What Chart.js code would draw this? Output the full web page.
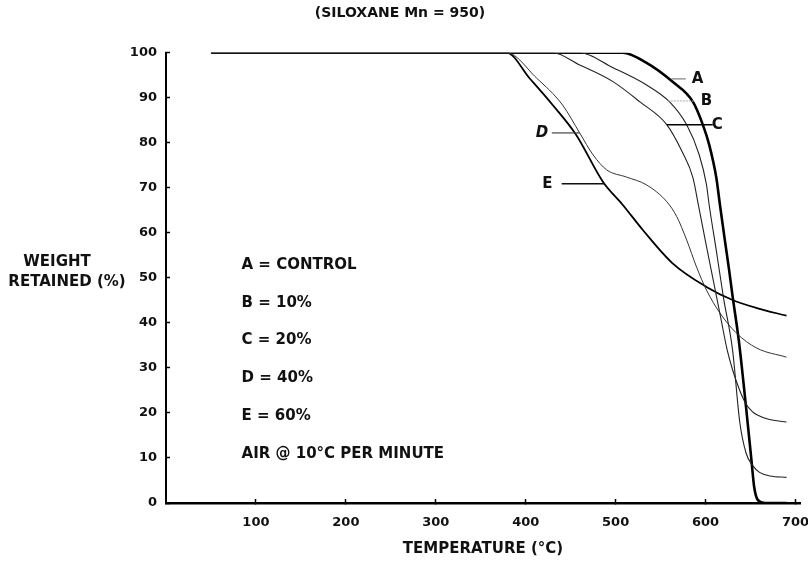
<!DOCTYPE html>
<html>
<head>
<meta charset="utf-8">
<script src="https://cdn.jsdelivr.net/npm/chart.js@4.4.1/dist/chart.umd.min.js"></script>
<style>
  html, body { margin: 0; padding: 0; background: #fff; }
</style>
</head>
<body>
<canvas id="tga" width="808" height="568"></canvas>
<script>
// tick labels
const xTicks = [100, 200, 300, 400, 500, 600, 700];
const yTicks = [0, 10, 20, 30, 40, 50, 60, 70, 80, 90, 100];

// curve A = control
const tempA   = [50, 380, 508, 534, 563, 586, 597, 604, 612, 616, 621, 626, 630, 637, 645, 651, 654, 658, 666, 690];
const weightA = [100, 100, 100, 97.8, 93.6, 89.1, 84, 79.6, 72.2, 66.2, 59, 52, 46, 36, 21.3, 9.5, 3.6, 0.7, 0, 0];
// curve B = 10%
const tempB   = [50, 460, 497, 534, 560, 579, 593, 601, 604, 612, 620, 630, 638, 645, 652, 660, 672, 690];
const weightB = [100, 100, 96.7, 92.9, 89.1, 84, 77.3, 70.7, 66.2, 56, 45.5, 34, 18, 11.1, 8.4, 6.8, 6, 5.7];
// curve C = 20%
const tempC   = [50, 430, 460, 497, 527, 557, 574, 586, 592, 600, 610, 617, 624, 630, 638, 645, 652, 657, 670, 690];
const weightC = [100, 100, 97.3, 93.6, 89.1, 84, 78, 72.2, 66.2, 58, 48, 41, 34, 29.6, 25, 22, 20.3, 19.6, 18.6, 18];
// curve D = 40%
const tempD   = [50, 379, 412, 441, 460, 475, 490, 512, 534, 557, 568, 579, 590, 601, 616, 634, 657, 690];
const weightD = [100, 100, 94.4, 88.4, 82.2, 77.3, 74, 72.4, 70.7, 66.9, 63.6, 58.4, 52.4, 47.3, 42.2, 37.8, 34.4, 32.4];
// curve E = 60%
const tempE   = [50, 379, 404, 430, 456, 486, 508, 530, 563, 601, 630, 657, 690];
const weightE = [100, 100, 94.4, 88.4, 81.8, 71.3, 66.2, 60.7, 53.3, 48, 45.1, 43.3, 41.6];

const legendLines = ['A = CONTROL', 'B = 10%', 'C = 20%', 'D = 40%', 'E = 60%', 'AIR @ 10°C PER MINUTE'];

const FONT = '"DejaVu Sans", "Liberation Sans", sans-serif';

function pts(t, w) { return t.map((v, i) => ({ x: v, y: w[i] })); }

// curve tags with leader lines, placed in data units
const curveTags = [
  { text: 'A', tx: 591, ty: 94.2, from: 562, to: 578, color: '#666', width: 1, dash: [] },
  { text: 'B', tx: 601, ty: 89.3, from: 558, to: 587, color: '#aaa', width: 1, dash: [2, 1] },
  { text: 'C', tx: 613, ty: 84.0, from: 557, to: 608, color: '#000', width: 1.5, dash: [] },
  { text: 'D', tx: 418, ty: 82.2, from: 429, to: 460, color: '#444', width: 1.2, dash: [], italic: true },
  { text: 'E', tx: 424, ty: 70.9, from: 440, to: 488, color: '#111', width: 1.6, dash: [] }
];

const notes = {
  id: 'notes',
  afterDatasetsDraw(chart) {
    const { ctx, scales: { x, y } } = chart;
    ctx.save();
    ctx.fillStyle = '#111';
    ctx.textBaseline = 'middle';

    // y axis title, horizontal
    ctx.font = 'bold 15px ' + FONT;
    ctx.textAlign = 'center';
    ctx.fillText('WEIGHT', 57, 262);
    ctx.fillText('RETAINED (%)', 67, 282);

    // key inside plot
    ctx.textAlign = 'left';
    legendLines.forEach((s, i) => {
      ctx.fillText(s, x.getPixelForValue(84), y.getPixelForValue(52.9 - i * 8.4));
    });

    // curve tags
    curveTags.forEach(c => {
      const py = y.getPixelForValue(c.ty);
      ctx.beginPath();
      ctx.setLineDash(c.dash);
      ctx.strokeStyle = c.color;
      ctx.lineWidth = c.width;
      ctx.moveTo(x.getPixelForValue(c.from), py);
      ctx.lineTo(x.getPixelForValue(c.to), py);
      ctx.stroke();
      ctx.setLineDash([]);
      ctx.font = (c.italic ? 'italic ' : '') + 'bold 15px ' + FONT;
      ctx.textAlign = 'center';
      ctx.fillText(c.text, x.getPixelForValue(c.tx), py);
    });
    ctx.restore();
  }
};

function curve(t, w, width, color) {
  return {
    data: pts(t, w),
    borderColor: color,
    borderWidth: width,
    pointRadius: 0,
    fill: false,
    cubicInterpolationMode: 'monotone'
  };
}

// small tick marks that sit inside the plot, as on the original
const tickGrid = { display: true, drawOnChartArea: false, drawTicks: true, tickLength: -4, tickColor: '#000', tickWidth: 1.5 };

new Chart(document.getElementById('tga'), {
  type: 'line',
  data: {
    datasets: [
      curve(tempB, weightB, 1.1, '#222'),
      curve(tempC, weightC, 1.1, '#222'),
      curve(tempD, weightD, 1.0, '#333'),
      curve(tempE, weightE, 1.8, '#000'),
      curve(tempA, weightA, 2.6, '#000')
    ]
  },
  options: {
    responsive: false,
    animation: false,
    layout: { padding: { top: 5, right: 8, left: 0, bottom: 10 } },
    plugins: {
      legend: { display: false },
      tooltip: { enabled: false },
      title: {
        display: true,
        text: '(SILOXANE Mn = 950)',
        color: '#111',
        font: { family: FONT, size: 14, weight: 'bold' },
        padding: { top: 0, bottom: 31 }
      }
    },
    scales: {
      x: {
        type: 'linear',
        min: 0,
        max: 705,
        afterBuildTicks: s => { s.ticks = xTicks.map(v => ({ value: v })); },
        afterFit: s => { s.paddingLeft = 0; s.paddingRight = 0; s.height = 55; },
        grid: tickGrid,
        border: { display: true, color: '#000', width: 2.5 },
        ticks: { color: '#111', padding: 16, maxRotation: 0, font: { family: FONT, size: 13, weight: 'bold' } },
        title: {
          display: true,
          text: 'TEMPERATURE (°C)',
          color: '#111',
          font: { family: FONT, size: 15, weight: 'bold' },
          padding: { top: 0, bottom: 0 }
        }
      },
      y: {
        min: 0,
        max: 100,
        afterBuildTicks: s => { s.ticks = yTicks.map(v => ({ value: v })); },
        afterFit: s => { s.width = 166; },
        grid: tickGrid,
        border: { display: true, color: '#000', width: 2 },
        ticks: { color: '#111', padding: 13, font: { family: FONT, size: 13, weight: 'bold' } }
      }
    }
  },
  plugins: [notes]
});
</script>
</body>
</html>
